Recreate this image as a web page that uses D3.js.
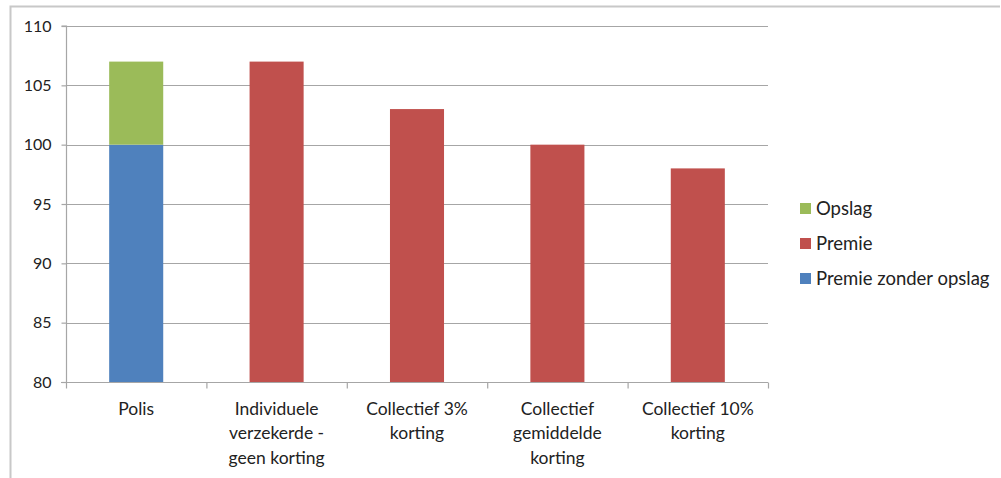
<!DOCTYPE html>
<html>
<head>
<meta charset="utf-8">
<script src="https://cdn.jsdelivr.net/npm/d3@7"></script>
<style>
  html, body { margin: 0; padding: 0; background: #fff; }
  svg { display: block; font-family: Lato, "Open Sans", sans-serif; }
</style>
</head>
<body>
<svg id="chart"></svg>
<script>
// chart data
const categories = ['Polis', 'Individuele verzekerde - geen korting', 'Collectief 3% korting', 'Collectief gemiddelde korting', 'Collectief 10% korting'];
const labelLines = [['Polis'], ['Individuele', 'verzekerde  -', 'geen korting'], ['Collectief 3%', 'korting'], ['Collectief', 'gemiddelde', 'korting'], ['Collectief 10%', 'korting']];
const premieZonderOpslag = [100, null, null, null, null];
const opslag = [7, null, null, null, null];
const premie = [null, 107, 103, 100, 98];
const yTicks = [80, 85, 90, 95, 100, 105, 110];
const legendItems = ['Opslag', 'Premie', 'Premie zonder opslag'];

const COLORS = { opslag: '#9BBB59', premie: '#C0504D', zonder: '#4F81BD' };

const W = 1001, H = 478;
const plot = { left: 66, right: 768, top: 26, bottom: 382 };

const svg = d3.select('#chart').attr('width', W).attr('height', H);

// outer frame
svg.append('path')
  .attr('d', `M10.5,${H} V6.5 H1000`)
  .attr('fill', 'none').attr('stroke', '#c8c8c8').attr('stroke-width', 2);

const x = d3.scaleBand().domain(categories).range([plot.left, plot.right])
  .paddingInner(0.615).paddingOuter(0.3075);
const y = d3.scaleLinear().domain([80, 110]).range([plot.bottom, plot.top]);

// gridlines
svg.append('g').selectAll('line').data(yTicks.filter(t => t > 80)).enter().append('line')
  .attr('x1', plot.left).attr('x2', plot.right)
  .attr('y1', d => Math.round(y(d)) + 0.5).attr('y2', d => Math.round(y(d)) + 0.5)
  .attr('stroke', '#a6a6a6').attr('stroke-width', 1.2);

// bars
const bars = svg.append('g');
categories.forEach((c, i) => {
  if (premieZonderOpslag[i] != null) {
    bars.append('rect').attr('x', x(c)).attr('width', x.bandwidth())
      .attr('y', y(premieZonderOpslag[i])).attr('height', y(80) - y(premieZonderOpslag[i]))
      .attr('fill', COLORS.zonder);
    const top = premieZonderOpslag[i] + opslag[i];
    bars.append('rect').attr('x', x(c)).attr('width', x.bandwidth())
      .attr('y', y(top)).attr('height', y(premieZonderOpslag[i]) - y(top))
      .attr('fill', COLORS.opslag);
  }
  if (premie[i] != null) {
    bars.append('rect').attr('x', x(c)).attr('width', x.bandwidth())
      .attr('y', y(premie[i])).attr('height', y(80) - y(premie[i]))
      .attr('fill', COLORS.premie);
  }
});

// y axis
const yAxis = svg.append('g').attr('transform', `translate(${plot.left + 0.5},0)`)
  .call(d3.axisLeft(y).tickValues(yTicks).tickSize(5).tickPadding(10));
yAxis.select('.domain').attr('stroke', '#a6a6a6').attr('stroke-width', 1.2)
  .attr('d', `M-5,${plot.top}H0V${plot.bottom}`);
yAxis.selectAll('.tick line').attr('stroke', '#a6a6a6').attr('stroke-width', 1.2);
yAxis.selectAll('.tick text').attr('font-size', 16).attr('fill', '#222').attr('font-family', 'Lato, sans-serif');

// x axis
const step = x.step();
const xAxis = svg.append('g').attr('transform', `translate(0,${plot.bottom + 0.5})`);
xAxis.append('line').attr('x1', plot.left - 5).attr('x2', plot.right)
  .attr('stroke', '#a6a6a6').attr('stroke-width', 1.2);
xAxis.selectAll('.xt').data(d3.range(categories.length + 1)).enter().append('line')
  .attr('x1', i => plot.left + i * step + 0.5).attr('x2', i => plot.left + i * step + 0.5)
  .attr('y1', 0).attr('y2', 6)
  .attr('stroke', '#a6a6a6').attr('stroke-width', 1.2);

categories.forEach((c, i) => {
  const cx = x(c) + x.bandwidth() / 2;
  const t = svg.append('text').attr('text-anchor', 'middle')
    .attr('font-size', 17.5).attr('fill', '#222');
  labelLines[i].forEach((ln, j) => {
    t.append('tspan').attr('x', cx).attr('y', 414.5 + j * 24.5).text(ln);
  });
});

// legend
const lg = svg.append('g').attr('transform', 'translate(800,0)');
legendItems.forEach((name, i) => {
  const cy = 208 + i * 35;
  const col = [COLORS.opslag, COLORS.premie, COLORS.zonder][i];
  lg.append('rect').attr('x', 0).attr('y', cy - 5).attr('width', 11).attr('height', 11).attr('fill', col);
  lg.append('text').attr('x', 16).attr('y', cy + 6.5).attr('font-size', 18.5).attr('fill', '#222').text(name);
});
</script>
</body>
</html>
